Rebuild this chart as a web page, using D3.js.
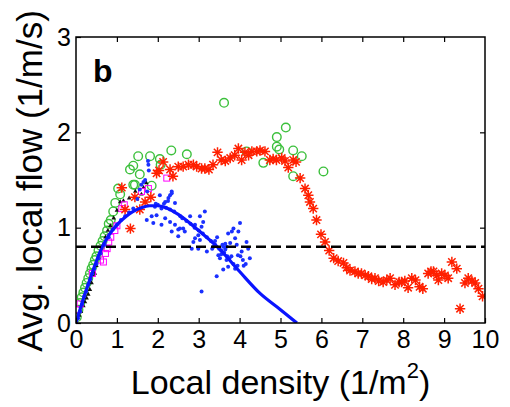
<!DOCTYPE html>
<html>
<head>
<meta charset="utf-8">
<script src="https://cdn.jsdelivr.net/npm/d3@7"></script>
<style>
  body { margin: 0; background: #fff; }
  text { font-family: "Liberation Sans", Arial, sans-serif; }
</style>
</head>
<body>
<div id="chart"></div>
<script>
// data: [density, flow]
var curveX = [0, 0.2, 0.4, 0.6, 0.8, 1.0, 1.2, 1.4, 1.6, 1.8, 2.0, 2.2, 2.5, 3.0, 3.5, 4.0, 4.5, 5.0, 5.4];
var curveY = [0, 0.28, 0.53, 0.76, 0.92, 1.03, 1.11, 1.17, 1.21, 1.23, 1.23, 1.21, 1.14, 0.97, 0.78, 0.54, 0.31, 0.14, 0];

var refFlow = 0.8;

var redPts = [[1.12,1.42],[1.20,1.19],[1.33,0.99],[1.44,1.32],[1.56,1.19],[1.69,1.27],[1.83,1.32],[1.97,1.57],
  [2.03,1.60],[2.13,1.69],[2.30,1.61],[2.37,1.54],[2.50,1.64],[2.62,1.64],[2.75,1.66],[2.87,1.66],[2.95,1.64],
  [3.07,1.62],[3.15,1.62],[3.25,1.61],[3.35,1.66],[3.46,1.79],[3.55,1.71],[3.65,1.70],[3.77,1.73],[3.88,1.76],
  [3.97,1.83],[4.05,1.71],[4.13,1.79],[4.22,1.76],[4.30,1.80],[4.42,1.80],[4.50,1.81],[4.62,1.80],[4.74,1.71],
  [4.82,1.72],[4.90,1.71],[5.03,1.73],[5.11,1.70],[5.19,1.63],[5.31,1.71],[5.38,1.69],[5.48,1.52],[5.60,1.41],
  [5.68,1.34],[5.72,1.27],[5.80,1.20],[5.88,1.08],[5.99,0.93],[6.09,0.85],[6.19,0.76],[6.30,0.68],[6.41,0.65],
  [6.54,0.63],[6.62,0.58],[6.70,0.55],[6.82,0.54],[6.90,0.52],[6.98,0.52],[7.07,0.50],[7.15,0.49],[7.23,0.46],
  [7.31,0.47],[7.40,0.44],[7.51,0.43],[7.60,0.45],[7.68,0.47],[7.80,0.40],[7.90,0.43],[7.96,0.43],[8.04,0.44],
  [8.12,0.37],[8.21,0.47],[8.30,0.45],[8.40,0.38],[8.48,0.36],[8.61,0.52],[8.68,0.54],[8.74,0.54],[8.82,0.50],
  [8.86,0.45],[8.94,0.52],[9.02,0.50],[9.10,0.47],[9.19,0.64],[9.31,0.57],[9.39,0.15],[9.51,0.42],[9.59,0.47],
  [9.68,0.44],[9.76,0.42],[9.84,0.36],[9.94,0.28]];

var greenPts = [[0.02,0.06],[0.06,0.14],[0.10,0.21],[0.14,0.27],[0.18,0.32],[0.22,0.37],[0.26,0.42],[0.30,0.47],
  [0.34,0.52],[0.38,0.57],[0.42,0.61],[0.46,0.66],[0.50,0.70],[0.55,0.76],[0.60,0.81],[0.65,0.86],[0.70,0.91],
  [0.76,0.97],[0.80,1.04],[0.85,1.08],[0.91,1.17],[0.96,1.26],[1.03,1.41],[1.08,1.35],[1.40,1.45],[1.44,1.45],
  [1.32,1.61],[1.40,1.65],[1.52,1.75],[1.56,1.56],[1.81,1.75],[1.85,1.44],[2.05,1.72],[2.07,1.66],[2.33,1.81],
  [2.71,1.77],[3.62,2.31],[4.17,1.80],[4.58,1.68],[4.91,1.95],[4.91,1.85],[4.97,1.82],[5.13,2.05],[5.31,1.81],
  [5.31,1.54],[5.52,1.75],[6.05,1.59]];

var bluePts = [[0.05,0.05],[0.10,0.12],[0.15,0.20],[0.20,0.28],[0.25,0.33],[0.30,0.40],[0.35,0.46],[0.40,0.52],
  [0.45,0.57],[0.50,0.62],[0.55,0.68],[0.60,0.73],[0.70,0.82],[0.80,0.90],[0.90,0.98],[1.00,1.03],[1.10,1.08],
  [1.20,1.12],[1.30,1.16],[1.40,1.20],[1.50,1.30],[1.56,1.40],[1.60,1.45],[1.65,1.48],[1.69,1.50],[1.74,1.38],
  [1.77,1.66],[1.78,1.60],[1.76,1.70],[1.73,1.08],[1.85,1.12],[1.89,1.05],[1.93,1.22],[1.97,1.13],[2.05,1.34],
  [2.09,1.20],[2.09,1.03],[2.18,1.27],[2.18,1.10],[2.26,1.31],[2.30,1.34],[2.30,1.06],[2.34,1.38],[2.34,1.36],
  [2.34,0.96],[2.42,1.26],[2.42,1.03],[2.50,0.98],[2.50,0.91],[2.54,0.99],[2.62,0.99],[2.66,0.96],[2.79,1.12],
  [2.83,0.78],[2.87,0.85],[2.91,1.03],[2.91,0.89],[2.99,0.92],[2.99,0.78],[3.03,1.12],[3.03,0.87],[3.07,1.01],
  [3.07,0.33],[3.11,1.06],[3.15,1.17],[3.20,0.75],[3.36,0.80],[3.44,0.49],[3.48,0.71],[3.52,0.68],[3.60,0.73],
  [3.60,0.56],[3.68,0.66],[3.72,0.94],[3.72,0.59],[3.77,0.84],[3.81,0.96],[3.85,0.99],[3.89,0.89],[3.89,0.57],
  [3.93,0.82],[3.97,0.96],[4.01,1.05],[4.05,0.75],[4.17,0.85],[4.21,0.78],[4.25,0.68],
  [1.95,1.25],[2.00,1.24],[2.15,1.25],[2.20,1.21],[2.25,1.28],[2.30,1.19],[2.40,1.17],[2.55,1.12],[2.60,1.10],
  [2.70,1.07],[2.80,1.04],[2.90,1.00],[3.00,0.97],[3.10,0.94],[3.20,0.90],[3.30,0.86],[3.33,0.78],[3.40,0.82],
  [3.40,0.86],[3.45,0.90],[3.50,0.78],[3.55,0.76],[3.55,0.72],[3.58,0.82],[3.60,0.80],[3.62,0.74],[3.65,0.83],
  [3.65,0.77],[3.68,0.80],[3.70,0.70],[3.75,0.68],[3.80,0.70],[3.85,0.62],[3.95,0.60],[3.96,0.71],[4.02,0.70],
  [4.08,0.66],[4.10,0.60],[4.15,0.62]];

var blackPts = [[0.08,0.08],[0.12,0.12],[0.18,0.18],[0.22,0.22],[0.26,0.26],[0.30,0.30],[0.34,0.35],[0.38,0.42],
  [0.42,0.50],[0.46,0.52],[0.50,0.60],[0.55,0.68],[0.60,0.74],[0.66,0.82],[0.72,0.90],[0.78,0.97],[0.84,1.02],
  [0.92,1.10],[1.00,1.18],[1.08,1.27],[1.16,1.28],[1.30,1.31],[1.45,1.38],[1.60,1.35],[1.65,1.42],[1.72,1.47]];

var magentaPts = [[0.05,0.14],[0.10,0.20],[0.40,0.52],[0.60,0.66],[0.67,0.64],[0.72,0.73],[0.76,0.78],[0.80,0.85],
  [0.85,0.90],[0.95,0.97],[1.00,1.02],[1.12,1.20],[1.18,1.24],[1.60,1.38],[1.77,1.41],[2.22,1.52]];

var xTicks = [0, 1, 2, 3, 4, 5, 6, 7, 8, 9, 10];
var yTicks = [0, 1, 2, 3];

var W = 510, H = 407;
var margin = {top: 37, right: 25, bottom: 84, left: 76};
var width = W - margin.left - margin.right;
var height = H - margin.top - margin.bottom;

var svg = d3.select("#chart").append("svg")
    .attr("width", W)
    .attr("height", H);

var g = svg.append("g")
    .attr("transform", "translate(" + margin.left + "," + margin.top + ")");

var x = d3.scaleLinear().domain([0, 10]).range([0, width]);
var y = d3.scaleLinear().domain([0, 3]).range([height, 0]);

g.append("clipPath").attr("id", "clip")
  .append("rect").attr("width", width).attr("height", height);

var plot = g.append("g").attr("clip-path", "url(#clip)");

//Green open circles
plot.selectAll(".green").data(greenPts).enter().append("circle")
    .attr("cx", function (d) { return x(d[0]); })
    .attr("cy", function (d) { return y(d[1]); })
    .attr("r", 4.3)
    .attr("fill", "none")
    .attr("stroke", "#3cc03c")
    .attr("stroke-width", 1.4);

//Black small triangles
var tri = d3.symbol().type(d3.symbolTriangle).size(9);
plot.selectAll(".black").data(blackPts).enter().append("path")
    .attr("d", tri)
    .attr("transform", function (d) { return "translate(" + x(d[0]) + "," + y(d[1]) + ")"; })
    .attr("fill", "#111");

//Magenta squares
plot.selectAll(".mag").data(magentaPts).enter().append("rect")
    .attr("x", function (d) { return x(d[0]) - 3; })
    .attr("y", function (d) { return y(d[1]) - 3; })
    .attr("width", 6)
    .attr("height", 6)
    .attr("fill", "none")
    .attr("stroke", "#ff00ff")
    .attr("stroke-width", 1);

//Red asterisks
var r = 5.2, k = r * 0.7071;
var star = "M" + (-r) + ",0H" + r + "M0," + (-r) + "V" + r +
    "M" + (-k) + "," + (-k) + "L" + k + "," + k + "M" + (-k) + "," + k + "L" + k + "," + (-k);
plot.selectAll(".red").data(redPts).enter().append("path")
    .attr("d", star)
    .attr("transform", function (d) { return "translate(" + x(d[0]) + "," + y(d[1]) + ")"; })
    .attr("fill", "none")
    .attr("stroke", "#ff2000")
    .attr("stroke-width", 1.5);

//Blue dots
plot.selectAll(".blue").data(bluePts).enter().append("circle")
    .attr("cx", function (d) { return x(d[0]); })
    .attr("cy", function (d) { return y(d[1]); })
    .attr("r", 2)
    .attr("fill", "#1a30ff");

//Blue fitted curve
var line = d3.line()
    .x(function (d, i) { return x(curveX[i]); })
    .y(function (d, i) { return y(curveY[i]); })
    .curve(d3.curveMonotoneX);

plot.append("path")
    .datum(curveX)
    .attr("d", line)
    .attr("fill", "none")
    .attr("stroke", "#0a14ff")
    .attr("stroke-width", 3.2);

//Dashed reference line
plot.append("line")
    .attr("x1", x(0)).attr("x2", x(10))
    .attr("y1", y(refFlow)).attr("y2", y(refFlow))
    .attr("stroke", "#000")
    .attr("stroke-width", 2.4)
    .attr("stroke-dasharray", "10,5");

//Axes: ticks inward on all four sides
var fontTick = "25px";
g.append("g")
    .attr("transform", "translate(0," + height + ")")
    .call(d3.axisBottom(x).tickValues(xTicks).tickSize(-5).tickPadding(7).tickFormat(d3.format("d")))
    .call(function (s) {
        s.select(".domain").remove();
        s.selectAll("text").attr("font-size", fontTick).attr("fill", "#000");
    });
g.append("g")
    .call(d3.axisTop(x).tickValues(xTicks.slice(1, -1)).tickSize(-5).tickFormat(""))
    .call(function (s) { s.select(".domain").remove(); });
g.append("g")
    .call(d3.axisLeft(y).tickValues(yTicks).tickSize(-5).tickPadding(5).tickFormat(d3.format("d")))
    .call(function (s) {
        s.select(".domain").remove();
        s.selectAll("text").attr("font-size", fontTick).attr("fill", "#000");
    });
g.append("g")
    .attr("transform", "translate(" + width + ",0)")
    .call(d3.axisRight(y).tickValues(yTicks.slice(1, -1)).tickSize(-5).tickFormat(""))
    .call(function (s) { s.select(".domain").remove(); });

g.selectAll(".tick line").attr("stroke", "#000").attr("stroke-width", 1.2);

g.append("rect")
    .attr("width", width)
    .attr("height", height)
    .attr("fill", "none")
    .attr("stroke", "#000")
    .attr("stroke-width", 1.5);

//Panel label
g.append("text")
    .attr("x", 17)
    .attr("y", 45)
    .attr("font-size", "32px")
    .attr("font-weight", "bold")
    .text("b");

//Axis titles
var xl = svg.append("text")
    .attr("x", margin.left + width / 2)
    .attr("y", 394)
    .attr("text-anchor", "middle")
    .attr("font-size", "34px");
xl.append("tspan").text("Local density (1/m");
xl.append("tspan").attr("dy", -16).attr("font-size", "22px").text("2");
xl.append("tspan").attr("dy", 16).text(")");

svg.append("text")
    .attr("transform", "translate(42,181) rotate(-90)")
    .attr("text-anchor", "middle")
    .attr("font-size", "35px")
    .text("Avg. local flow (1/m/s)");
</script>
</body>
</html>
